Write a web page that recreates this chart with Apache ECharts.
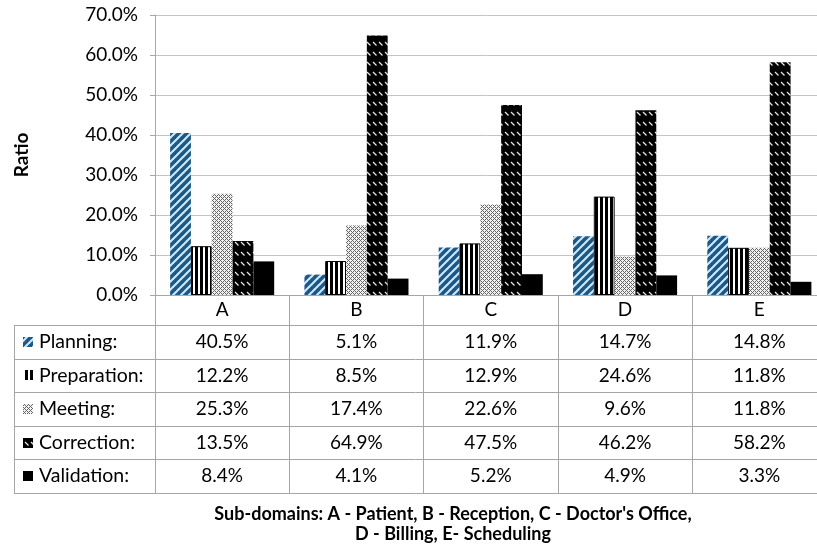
<!DOCTYPE html>
<html>
<head>
<meta charset="utf-8">
<script src="https://cdn.jsdelivr.net/npm/echarts@6/dist/echarts.min.js"></script>
<style>
  html, body { margin: 0; padding: 0; background: #fff; }
  #chart { width: 817px; height: 547px; }
</style>
</head>
<body>
<div id="chart"></div>
<script>
// Ratio of activity types per sub-domain (percent)
const categories = ['A', 'B', 'C', 'D', 'E'];
const seriesNames = ['Planning', 'Preparation', 'Meeting', 'Correction', 'Validation'];
const planning    = [40.5, 5.1, 11.9, 14.7, 14.8];
const preparation = [12.2, 8.5, 12.9, 24.6, 11.8];
const meeting     = [25.3, 17.4, 22.6, 9.6, 11.8];
const correction  = [13.5, 64.9, 47.5, 46.2, 58.2];
const validation  = [8.4, 4.1, 5.2, 4.9, 3.3];
const seriesValues = [planning, preparation, meeting, correction, validation];
const footnoteLines = [
  "Sub-domains: A - Patient, B - Reception, C - Doctor's Office,",
  'D - Billing, E- Scheduling'
];

const FONT = 'Lato, "Open Sans", sans-serif';
const TEXT = '#000';
const TABLE_LINE = '#a6a6a6';

// Layout of the plot and the data table underneath it
const W = 817, H = 547;
const GRID_LEFT = 155, GRID_TOP = 15, AXIS_Y = 295;
const HEADER_H = 30, ROW_H = 33.6;
const TABLE_LEFT = 14;

// Small repeating fills for the bars
function makeTile(w, h, draw) {
  const c = document.createElement('canvas');
  c.width = w; c.height = h;
  draw(c.getContext('2d'), w, h);
  return c;
}
const planningTile = makeTile(8, 8, (ctx, w, h) => {
  ctx.fillStyle = '#cbe8fa';
  ctx.fillRect(0, 0, w, h);
  ctx.strokeStyle = '#1d5786';
  ctx.lineWidth = 3.6;
  for (let k = -w; k <= w; k += w) {
    ctx.beginPath();
    ctx.moveTo(k - 1, h + 1);
    ctx.lineTo(k + w + 1, -1);
    ctx.stroke();
  }
});
const preparationTile = makeTile(5, 5, (ctx, w, h) => {
  ctx.fillStyle = '#fff';
  ctx.fillRect(0, 0, w, h);
  ctx.fillStyle = '#000';
  ctx.fillRect(0, 0, 3, h);
});
const meetingTile = makeTile(4, 4, (ctx, w, h) => {
  ctx.fillStyle = '#f2f2f2';
  ctx.fillRect(0, 0, w, h);
  ctx.fillStyle = '#666';
  for (let x = 0; x < w; x++) {
    for (let y = 0; y < h; y++) {
      if ((x + y) % 4 === 0 || (x - y + 4) % 4 === 0) ctx.fillRect(x, y, 1, 1);
    }
  }
});
const correctionTile = makeTile(6, 10, (ctx, w, h) => {
  ctx.fillStyle = '#000';
  ctx.fillRect(0, 0, w, h);
  ctx.strokeStyle = '#e8e8e8';
  ctx.lineWidth = 1.2;
  ctx.beginPath();
  ctx.moveTo(1, 2);
  ctx.lineTo(4.5, 5.5);
  ctx.stroke();
});
const pattern = (tile) => ({ image: tile, repeat: 'repeat' });
const fills = [
  pattern(planningTile),
  pattern(preparationTile),
  pattern(meetingTile),
  pattern(correctionTile),
  '#000'
];
const borders = [
  { borderWidth: 0 },
  { borderColor: '#000', borderWidth: 1 },
  { borderWidth: 0 },
  { borderWidth: 0 },
  { borderWidth: 0 }
];

const fmt = (v) => v.toFixed(1) + '%';

// Table body under each category: header letter + one value per series
function tableColumn(value, index) {
  const lines = ['{h|' + value + '}'];
  seriesValues.forEach((vals) => lines.push('{v|' + fmt(vals[index]) + '}'));
  return lines.join('\n');
}

const rowCenters = seriesNames.map((_, i) => AXIS_Y + HEADER_H + ROW_H * (i + 0.5));
const tableBottom = AXIS_Y + HEADER_H + ROW_H * seriesNames.length;

const graphics = [];
// horizontal rules of the table
for (let i = 0; i <= seriesNames.length; i++) {
  const y = Math.round(AXIS_Y + HEADER_H + ROW_H * i) + 0.5;
  graphics.push({
    type: 'line', silent: true,
    shape: { x1: TABLE_LEFT, y1: y, x2: W, y2: y },
    style: { stroke: TABLE_LINE, lineWidth: 1 }
  });
}
// left edge of the legend column
graphics.push({
  type: 'line', silent: true,
  shape: { x1: TABLE_LEFT + 0.5, y1: AXIS_Y + HEADER_H, x2: TABLE_LEFT + 0.5, y2: tableBottom },
  style: { stroke: TABLE_LINE, lineWidth: 1 }
});
// legend swatches and row names
seriesNames.forEach((name, i) => {
  const cy = rowCenters[i];
  graphics.push({
    type: 'rect', silent: true,
    shape: { x: 23, y: Math.round(cy - 5), width: 10, height: 10 },
    style: { fill: fills[i] }
  });
  graphics.push({
    type: 'text', silent: true,
    x: 39, y: cy,
    style: {
      text: name + ':', font: '19.5px ' + FONT, fill: TEXT,
      textAlign: 'left', textVerticalAlign: 'middle'
    }
  });
});
// footnote
footnoteLines.forEach((line, i) => {
  graphics.push({
    type: 'text', silent: true,
    x: 453, y: 514 + i * 20,
    style: {
      text: line, font: 'bold 18px ' + FONT, fill: TEXT,
      textAlign: 'center', textVerticalAlign: 'middle'
    }
  });
});

const chart = echarts.init(document.getElementById('chart'), null, { renderer: 'canvas' });
chart.setOption({
  animation: false,
  backgroundColor: '#fff',
  textStyle: { fontFamily: FONT },
  grid: {
    left: GRID_LEFT, top: GRID_TOP, right: -9.5, bottom: H - AXIS_Y,
    containLabel: false, outerBoundsMode: 'none'
  },
  xAxis: {
    type: 'category',
    data: categories,
    axisLine: { lineStyle: { color: TABLE_LINE, width: 1 } },
    axisTick: {
      show: true, interval: 0, alignWithLabel: false,
      length: tableBottom - AXIS_Y,
      lineStyle: { color: TABLE_LINE, width: 1 }
    },
    axisLabel: {
      interval: 0, margin: 0,
      formatter: tableColumn,
      rich: {
        h: { fontSize: 19, lineHeight: HEADER_H, color: TEXT, fontFamily: FONT },
        v: { fontSize: 19, lineHeight: ROW_H, color: TEXT, fontFamily: FONT }
      }
    },
    splitLine: { show: false }
  },
  yAxis: {
    type: 'value',
    min: 0, max: 70, interval: 10,
    name: 'Ratio',
    nameLocation: 'middle',
    nameRotate: 90,
    nameGap: 124,
    nameTextStyle: { fontSize: 19, fontWeight: 'bold', color: TEXT, fontFamily: FONT },
    axisLine: { show: true, lineStyle: { color: TABLE_LINE, width: 1 } },
    axisTick: { show: true, length: 5, lineStyle: { color: TABLE_LINE } },
    axisLabel: { formatter: fmt, margin: 17, fontSize: 19, color: TEXT, fontFamily: FONT },
    splitLine: { lineStyle: { color: '#c4c4c4', width: 1 } }
  },
  series: seriesNames.map((name, i) => ({
    name,
    type: 'bar',
    data: seriesValues[i],
    barGap: '0%',
    barCategoryGap: '22.5%',
    itemStyle: Object.assign({ color: fills[i] }, borders[i]),
    emphasis: { disabled: true }
  })),
  graphic: graphics
});
</script>
</body>
</html>
